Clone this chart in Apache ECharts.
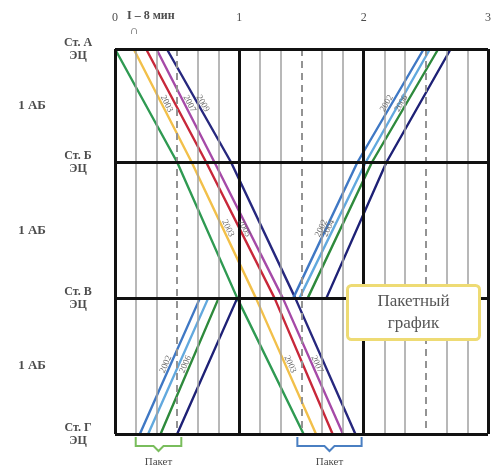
<!DOCTYPE html>
<html>
<head>
<meta charset="utf-8">
<script src="https://cdn.jsdelivr.net/npm/echarts@6/dist/echarts.min.js"></script>
<style>
  html, body { margin: 0; padding: 0; background: #fff; }
  #chart { width: 494px; height: 474px; }
</style>
</head>
<body>
<div id="chart"></div>
<script>
// stations (distance along the line, km-like units)
var stations = ['Ст. А', 'Ст. Б', 'Ст. В', 'Ст. Г'];
var stationSub = 'ЭЦ';
var stationKm = [0, 25, 55, 85];
var blockLabel = '1 АБ';

// time axis, minutes
var hourTicks = [0, 60, 120, 180];
var halfHourTicks = [30, 90, 150];
var tenMinTicks = [10, 20, 40, 50, 70, 80, 100, 110, 130, 140, 160, 170];

// odd packet: А -> Г, times at А, Б, В, Г
var oddNames = ['2001', '2003', '2005', '2007', '2009'];
var oddColors = ['#2f9a52', '#f2c04a', '#c8283a', '#a64aa8', '#27287e'];
var oddTimes = [
  [0, 30, 59, 91],
  [9, 37, 68, 97],
  [15, 44, 77, 105],
  [20, 48, 81, 110],
  [25, 56, 87, 116]
];

// even packet: Г -> А, times at Г, В (arr), В (dep), Б, А
var evenNames = ['2002', '2004', '2006', '2008'];
var evenColors = ['#3f78c4', '#62a9de', '#2e8a3c', '#1e2176'];
var evenRoute = [85, 55, 55, 25, 0];
var evenTimes = [
  [12, 41, 86, 117, 149],
  [16, 45, 89, 121, 152],
  [22, 50, 93, 124, 156],
  [30, 59, 102, 131, 162]
];

// train number captions: [direction, train, segment]
var numberLabels = [
  ['odd', 1, 0], ['odd', 3, 0], ['odd', 4, 0],
  ['odd', 1, 1], ['odd', 2, 1],
  ['odd', 1, 2], ['odd', 3, 2],
  ['even', 0, 3], ['even', 2, 3],
  ['even', 0, 2], ['even', 1, 2],
  ['even', 0, 0], ['even', 2, 0]
];

var chartDom = document.getElementById('chart');
var myChart = echarts.init(chartDom);
var option;

var serif = '"Liberation Serif", "DejaVu Serif", serif';
var textGrey = '#4d4d4d';

// y label values: stations + midpoints of the sections
var yLabelValues = [];
var yLabelText = {};
stationKm.forEach(function (km, i) {
  yLabelValues.push(km);
  yLabelText[km] = '{st|' + stations[i] + '}\n{st|' + stationSub + '}';
  if (i < stationKm.length - 1) {
    var mid = (km + stationKm[i + 1]) / 2;
    yLabelValues.push(mid);
    yLabelText[mid] = '{ab|' + blockLabel + '}';
  }
});

// vertical grid + frame lines
var gridLines = [];
tenMinTicks.forEach(function (t) {
  gridLines.push({ xAxis: t, lineStyle: { color: '#a0a0a0', width: 1.5, type: 'solid' } });
});
halfHourTicks.forEach(function (t) {
  gridLines.push({ xAxis: t, lineStyle: { color: '#939393', width: 2, type: [7, 5] } });
});
var frameLines = [];
hourTicks.forEach(function (t) {
  frameLines.push({ xAxis: t });
});
stationKm.forEach(function (km) {
  frameLines.push({ yAxis: km });
});

var series = [
  {
    type: 'line',
    data: [],
    silent: true,
    z: 1,
    markLine: { symbol: 'none', silent: true, label: { show: false }, animation: false, data: gridLines }
  },
  {
    type: 'line',
    data: [],
    silent: true,
    z: 2,
    markLine: {
      symbol: 'none', silent: true, label: { show: false }, animation: false,
      lineStyle: { color: '#111', width: 3, type: 'solid' },
      data: frameLines
    }
  }
];

oddTimes.forEach(function (times, i) {
  series.push({
    name: oddNames[i],
    type: 'line',
    z: 4,
    symbol: 'none',
    lineStyle: { color: oddColors[i], width: 2.4 },
    data: times.map(function (t, k) { return [t, stationKm[k]]; })
  });
});
evenTimes.forEach(function (times, i) {
  series.push({
    name: evenNames[i],
    type: 'line',
    z: 4,
    symbol: 'none',
    lineStyle: { color: evenColors[i], width: 2.4 },
    data: times.map(function (t, k) { return [t, evenRoute[k]]; })
  });
});

// train number captions along the lines
var captionData = numberLabels.map(function (l) {
  var odd = l[0] === 'odd';
  var times = odd ? oddTimes[l[1]] : evenTimes[l[1]];
  var km = odd ? stationKm : evenRoute;
  var s = l[2];
  return [times[s], km[s], times[s + 1], km[s + 1], odd ? oddNames[l[1]] : evenNames[l[1]]];
});
series.push({
  type: 'custom',
  z: 5,
  silent: true,
  data: captionData,
  renderItem: function (params, api) {
    var p1 = api.coord([api.value(0), api.value(1)]);
    var p2 = api.coord([api.value(2), api.value(3)]);
    var ang = Math.atan2(p2[1] - p1[1], p2[0] - p1[0]);
    if (ang > Math.PI / 2) ang -= Math.PI;
    if (ang < -Math.PI / 2) ang += Math.PI;
    return {
      type: 'text',
      x: (p1[0] + p2[0]) / 2,
      y: (p1[1] + p2[1]) / 2,
      rotation: -ang,
      style: {
        text: captionData[params.dataIndex][4],
        fill: '#6a6a6a',
        font: '9px ' + serif,
        align: 'center',
        verticalAlign: 'bottom'
      }
    };
  }
});

// packet brackets under Ст. Г
var packets = [
  [evenTimes[0][0] - 2, evenTimes[evenTimes.length - 1][0] + 2, '#79bd5c'],
  [oddTimes[0][3] - 3, oddTimes[oddTimes.length - 1][3] + 3, '#4a7fc2']
];
var packetText = 'Пакет';
series.push({
  type: 'custom',
  z: 5,
  silent: true,
  data: packets.map(function (p) { return [p[0], p[1]]; }),
  renderItem: function (params, api) {
    var y = api.coord([0, stationKm[stationKm.length - 1]])[1];
    var x1 = api.coord([api.value(0), 0])[0];
    var x2 = api.coord([api.value(1), 0])[0];
    var xm = (x1 + x2) / 2;
    var color = packets[params.dataIndex][2];
    return {
      type: 'group',
      children: [
        {
          type: 'polyline',
          shape: {
            points: [[x1, y + 3], [x1, y + 12], [xm - 5, y + 12], [xm, y + 17], [xm + 5, y + 12], [x2, y + 12], [x2, y + 3]]
          },
          style: { stroke: color, lineWidth: 2, fill: null }
        },
        {
          type: 'text',
          x: xm,
          y: y + 28,
          style: { text: packetText, fill: textGrey, font: '11px ' + serif, align: 'center', verticalAlign: 'middle' }
        }
      ]
    };
  }
});

option = {
  animation: false,
  backgroundColor: '#ffffff',
  grid: { left: 115, right: 4, top: 49, bottom: 40 },
  xAxis: {
    type: 'value',
    position: 'top',
    min: 0,
    max: 180,
    interval: 10,
    axisLine: { show: false },
    axisTick: { show: false },
    splitLine: { show: false },
    axisLabel: {
      customValues: hourTicks,
      margin: 25,
      color: textGrey,
      fontFamily: serif,
      fontSize: 12,
      formatter: function (v) { return String(v / 60); }
    }
  },
  yAxis: {
    type: 'value',
    inverse: true,
    min: 0,
    max: stationKm[stationKm.length - 1],
    axisLine: { show: false },
    axisTick: { show: false },
    splitLine: { show: false },
    axisLabel: {
      customValues: yLabelValues,
      margin: 37,
      align: 'center',
      formatter: function (v) { return yLabelText[v]; },
      rich: {
        st: { color: textGrey, fontFamily: serif, fontSize: 12, fontWeight: 'bold', lineHeight: 13, align: 'center' },
        ab: { color: textGrey, fontFamily: serif, fontSize: 13, fontWeight: 'bold', padding: [0, 92, 0, 0] }
      }
    }
  },
  graphic: [
    {
      type: 'text', left: 127, top: 10, z: 10,
      style: { text: 'I – 8 мин', fill: textGrey, font: 'bold 12px ' + serif }
    },
    {
      type: 'text', left: 130, top: 25, z: 10,
      style: { text: '∩', fill: textGrey, font: 'bold 12px ' + serif }
    },
    {
      type: 'rect', left: 346, top: 284, z: 100,
      shape: { width: 132, height: 54, r: 4 },
      style: { fill: '#ffffff', stroke: '#eedb74', lineWidth: 3 },
      textContent: {
        z: 101,
        style: {
          text: 'Пакетный\nграфик', fill: '#555', font: '17px ' + serif,
          align: 'center', lineHeight: 22
        }
      },
      textConfig: { position: 'inside' }
    }
  ],
  series: series
};

option && myChart.setOption(option);
</script>
</body>
</html>
